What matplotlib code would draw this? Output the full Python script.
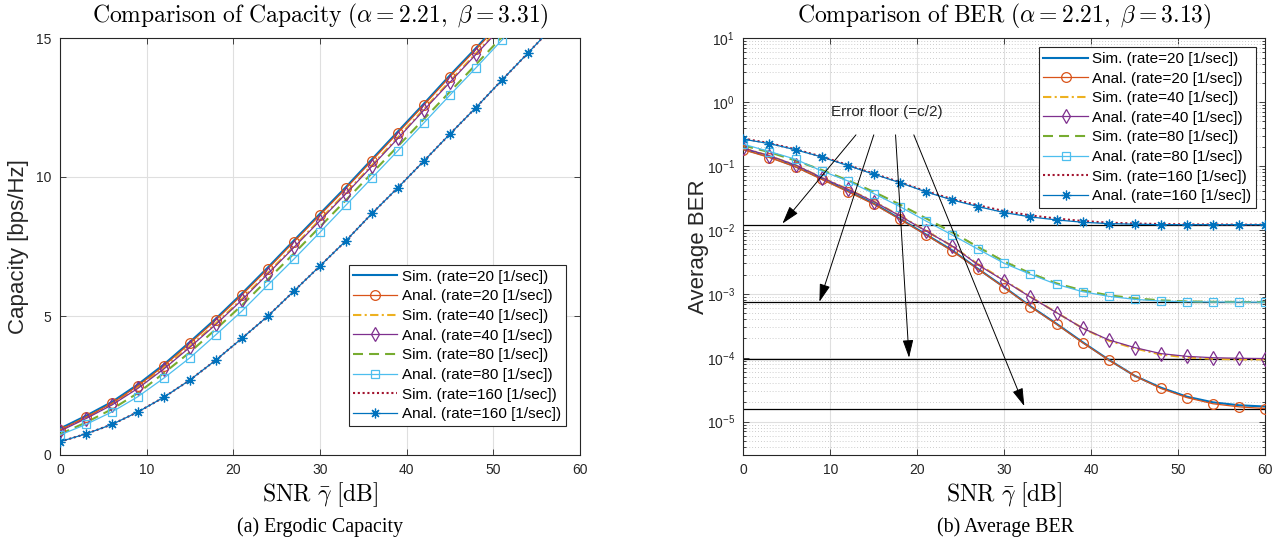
import matplotlib
matplotlib.use("Agg")
import matplotlib.pyplot as plt
from matplotlib.ticker import LogLocator, FixedLocator, NullFormatter

plt.rcParams['font.family'] = ['Liberation Sans', 'DejaVu Sans']
plt.rcParams['mathtext.fontset'] = 'custom'
plt.rcParams['mathtext.rm'] = 'Liberation Sans'
plt.rcParams['mathtext.it'] = 'Liberation Sans:italic'
plt.rcParams['mathtext.bf'] = 'Liberation Sans:bold'

# ---------------------------------------------------------------- data
snr_db = [0, 3, 6, 9, 12, 15, 18, 21, 24, 27, 30, 33, 36, 39, 42, 45, 48, 51, 54, 57, 60]
rates = [20, 40, 80, 160]

# ergodic capacity [bps/Hz]
cap_sim_20 = [0.95, 1.41, 1.91, 2.54, 3.26, 4.07, 4.91, 5.81, 6.75, 7.72, 8.68, 9.64, 10.64, 11.64, 12.64, 13.66, 14.64, 15.65, 16.65, 17.65, 18.65]
cap_anal_20 = [0.90, 1.36, 1.86, 2.49, 3.21, 4.02, 4.86, 5.76, 6.70, 7.67, 8.63, 9.59, 10.59, 11.59, 12.59, 13.61, 14.59, 15.60, 16.60, 17.60, 18.60]
cap_sim_40 = [0.89, 1.34, 1.84, 2.44, 3.14, 3.92, 4.74, 5.62, 6.56, 7.51, 8.47, 9.44, 10.43, 11.43, 12.45, 13.45, 14.45, 15.45, 16.45, 17.45, 18.45]
cap_anal_40 = [0.86, 1.31, 1.80, 2.40, 3.10, 3.88, 4.70, 5.58, 6.52, 7.47, 8.43, 9.40, 10.39, 11.39, 12.41, 13.41, 14.41, 15.41, 16.41, 17.41, 18.41]
cap_sim_80 = [0.75, 1.17, 1.65, 2.23, 2.95, 3.70, 4.53, 5.39, 6.32, 7.25, 8.21, 9.17, 10.14, 11.11, 12.09, 13.07, 14.05, 15.04, 16.03, 17.03, 18.03]
cap_anal_80 = [0.72, 1.10, 1.55, 2.10, 2.77, 3.50, 4.33, 5.18, 6.12, 7.05, 8.01, 8.99, 9.97, 10.95, 11.95, 12.95, 13.93, 14.93, 15.93, 16.93, 17.93]
cap_sim_160 = [0.48, 0.76, 1.10, 1.55, 2.08, 2.70, 3.42, 4.20, 5.00, 5.90, 6.80, 7.71, 8.69, 9.62, 10.58, 11.55, 12.50, 13.49, 14.46, 15.45, 16.44]
cap_anal_160 = [0.48, 0.76, 1.10, 1.55, 2.08, 2.70, 3.42, 4.20, 5.00, 5.90, 6.80, 7.71, 8.69, 9.62, 10.58, 11.55, 12.50, 13.49, 14.46, 15.45, 16.44]

# average bit error rate
ber_sim_20 = [0.185, 0.14, 0.099, 0.064, 0.041, 0.026, 0.0150, 0.0085, 0.0048, 0.00245, 0.00127, 6.4e-4, 3.4e-4, 1.75e-4, 9.3e-5, 5.2e-5, 3.4e-5, 2.45e-5, 2.0e-5, 1.8e-5, 1.72e-5]
ber_anal_20 = [0.18, 0.136, 0.097, 0.062, 0.0398, 0.0253, 0.0147, 0.00835, 0.00469, 0.00242, 0.00125, 6.3e-4, 3.34e-4, 1.72e-4, 9.2e-5, 5.2e-5, 3.3e-5, 2.37e-5, 1.9e-5, 1.7e-5, 1.6e-5]
ber_sim_40 = [0.19, 0.144, 0.103, 0.066, 0.0436, 0.028, 0.0167, 0.0097, 0.0056, 0.0029, 0.00162, 9.0e-4, 5.1e-4, 2.9e-4, 1.85e-4, 1.4e-4, 1.12e-4, 1.01e-4, 9.6e-5, 9.4e-5, 9.4e-5]
ber_anal_40 = [0.191, 0.145, 0.104, 0.066, 0.0434, 0.0278, 0.0166, 0.00964, 0.00562, 0.00283, 0.0016, 8.9e-4, 5.08e-4, 2.9e-4, 1.9e-4, 1.44e-4, 1.16e-4, 1.05e-4, 1.0e-4, 9.8e-5, 9.7e-5]
ber_sim_80 = [0.21, 0.165, 0.122, 0.087, 0.06, 0.0395, 0.025, 0.0152, 0.0092, 0.0054, 0.0032, 0.0021, 0.00146, 0.00113, 9.5e-4, 8.5e-4, 7.9e-4, 7.6e-4, 7.5e-4, 7.45e-4, 7.42e-4]
ber_anal_80 = [0.22, 0.169, 0.128, 0.084, 0.0587, 0.0371, 0.0232, 0.0138, 0.00835, 0.00498, 0.0030, 0.00202, 0.00141, 0.00108, 9.14e-4, 8.2e-4, 7.7e-4, 7.53e-4, 7.45e-4, 7.42e-4, 7.4e-4]
ber_sim_160 = [0.27, 0.228, 0.183, 0.141, 0.104, 0.076, 0.056, 0.0403, 0.0305, 0.0243, 0.0197, 0.0169, 0.0151, 0.0138, 0.013, 0.0126, 0.0124, 0.0122, 0.0122, 0.0121, 0.0121]
ber_anal_160 = [0.263, 0.225, 0.18, 0.139, 0.102, 0.0747, 0.055, 0.0394, 0.0295, 0.0232, 0.0187, 0.016, 0.01436, 0.0132, 0.01256, 0.0123, 0.0121, 0.0121, 0.0121, 0.0121, 0.0121]

# error floors (c/2) and the arrows pointing at them
error_floors = [0.0121, 7.4e-4, 9.5e-5, 1.56e-5]
arrow_tail_x = [12.95, 15.0, 17.5, 19.6]
arrow_tail_y = [0.308, 0.308, 0.308, 0.308]
arrow_head_x = [4.5, 8.75, 19.05, 32.3]
arrow_head_y = [0.0126, 7.5e-4, 1.0e-4, 1.75e-5]
floor_label = "Error floor (=c/2)"
floor_label_pos = (16.55, 0.714)

cap_sim = [cap_sim_20, cap_sim_40, cap_sim_80, cap_sim_160]
cap_anal = [cap_anal_20, cap_anal_40, cap_anal_80, cap_anal_160]
ber_sim = [ber_sim_20, ber_sim_40, ber_sim_80, ber_sim_160]
ber_anal = [ber_anal_20, ber_anal_40, ber_anal_80, ber_anal_160]

# ---------------------------------------------------------------- styles
sim_styles = [
    dict(color='#0072BD', linestyle='-'),
    dict(color='#EDB120', dashes=(4.0, 1.6, 1.0, 1.6)),
    dict(color='#77AC30', dashes=(4.8, 2.9)),
    dict(color='#A2142F', dashes=(1.0, 1.3)),
]
anal_styles = [
    dict(color='#D95319', marker='o', markersize=7),
    dict(color='#7E2F8E', marker='d', markersize=7.5),
    dict(color='#4DBEEE', marker='s', markersize=5.5),
    dict(color='#0072BD', marker=(8, 2, 0), markersize=7),
]

GRID = '#DFDFDF'
MINOR = '#BDBDBD'
AXC = '#262626'

fig = plt.figure(figsize=(12.85, 5.47), dpi=100)
W, H = 1285.0, 547.0
ax1 = fig.add_axes([60 / W, 92 / H, 520 / W, 417 / H])
ax2 = fig.add_axes([743.3 / W, 92 / H, 522 / W, 416.7 / H])


def draw_series(ax, sims, anals):
    handles = []
    for r, s, a, ss, sa in zip(rates, sims, anals, sim_styles, anal_styles):
        h1, = ax.plot(snr_db, s, linewidth=1.5, label=f"Sim. (rate={r} [1/sec])",
                      zorder=3, **ss)
        h2, = ax.plot(snr_db, a, linewidth=0.9, markerfacecolor='none',
                      markeredgewidth=0.9, label=f"Anal. (rate={r} [1/sec])",
                      zorder=4, **sa)
        handles += [h1, h2]
    return handles


def style_axes(ax):
    for sp in ax.spines.values():
        sp.set_color(AXC)
        sp.set_linewidth(0.8)
    ax.tick_params(which='both', direction='in', top=True, right=True,
                   colors=AXC, labelsize=10, width=0.6)
    ax.tick_params(which='major', length=4, pad=6)
    ax.tick_params(which='minor', length=2)
    ax.set_axisbelow(True)


def add_legend(ax, handles, anchor):
    leg = ax.legend(handles=handles, loc='upper right', bbox_to_anchor=anchor,
                    bbox_transform=fig.transFigure, fontsize=11, frameon=True,
                    fancybox=False, edgecolor=AXC, framealpha=1,
                    borderaxespad=0, borderpad=0.3, handlelength=2.9,
                    handletextpad=0.3, labelspacing=0.37)
    leg.get_frame().set_linewidth(0.8)
    return leg


title_kw = dict(fontsize=17, math_fontfamily='cm', y=1.0 + 22 / 417,
                verticalalignment='center', pad=0)
xlabel_kw = dict(fontsize=17, math_fontfamily='cm')

# ---------------------------------------------------------------- capacity
h = draw_series(ax1, cap_sim, cap_anal)
style_axes(ax1)
ax1.set_xlim(0, 60)
ax1.set_ylim(0, 15)
ax1.set_xticks(range(0, 61, 10))
ax1.set_yticks([0, 5, 10, 15])
ax1.grid(True, which='major', color=GRID, linewidth=0.8)
ax1.set_title(r"$\mathrm{Comparison\ of\ Capacity\ (}\alpha = 2.21\mathrm{,\ }\beta = 3.31\mathrm{)}$",
              **title_kw)
ax1.set_xlabel(r"$\mathrm{SNR}\ \bar{\gamma}\ \mathrm{[dB]}$", **xlabel_kw)
ax1.xaxis.set_label_coords(0.5, -40 / 417)
ax1.xaxis.label.set_verticalalignment('center')
ax1.set_ylabel("Capacity [bps/Hz]", fontsize=16, color=AXC)
ax1.yaxis.set_label_coords(-41 / 520, 0.5)
ax1.yaxis.label.set_verticalalignment('center')
add_legend(ax1, h, (565.7 / W, 1 - 265 / H))

# ---------------------------------------------------------------- BER
h = draw_series(ax2, ber_sim, ber_anal)
for fl in error_floors:
    ax2.axhline(fl, color='black', linewidth=0.9, zorder=2)
ax2.set_yscale('log')
style_axes(ax2)
ax2.set_xlim(0, 60)
ax2.set_ylim(3.0e-6, 10)
ax2.set_xticks(range(0, 61, 10))
ax2.yaxis.set_major_locator(FixedLocator([1e-5, 1e-4, 1e-3, 1e-2, 1e-1, 1e0, 1e1]))
ax2.yaxis.set_minor_locator(LogLocator(base=10, subs=range(2, 10), numticks=20))
ax2.yaxis.set_minor_formatter(NullFormatter())
ax2.grid(True, which='major', color=GRID, linewidth=0.8)
ax2.grid(True, which='minor', axis='y', color=MINOR, linewidth=0.6,
         linestyle=(0, (1, 2.5)))
for tx, ty, hx, hy in zip(arrow_tail_x, arrow_tail_y, arrow_head_x, arrow_head_y):
    ax2.annotate("", xy=(hx, hy), xytext=(tx, ty),
                 arrowprops=dict(arrowstyle='-|>,head_length=1.1,head_width=0.33',
                                 color='black', linewidth=0.7,
                                 shrinkA=0, shrinkB=0), zorder=5)
ax2.text(floor_label_pos[0], floor_label_pos[1], floor_label, fontsize=11,
         ha='center', va='center', color=AXC, zorder=6)
ax2.set_title(r"$\mathrm{Comparison\ of\ BER\ (}\alpha = 2.21\mathrm{,\ }\beta = 3.13\mathrm{)}$",
              **title_kw)
ax2.set_xlabel(r"$\mathrm{SNR}\ \bar{\gamma}\ \mathrm{[dB]}$", **xlabel_kw)
ax2.xaxis.set_label_coords(0.5, -40 / 416.7)
ax2.xaxis.label.set_verticalalignment('center')
ax2.set_ylabel("Average BER", fontsize=16, color=AXC)
ax2.yaxis.set_label_coords(-45 / 522, 0.5)
ax2.yaxis.label.set_verticalalignment('center')
add_legend(ax2, h, (1256 / W, 1 - 47.3 / H))

# ---------------------------------------------------------------- captions
fig.text(320 / W, 1 - 527 / H, "(a) Ergodic Capacity", fontsize=14.3,
         family='Liberation Serif', ha='center', va='center')
fig.text(1005 / W, 1 - 527 / H, "(b) Average BER", fontsize=14.3,
         family='Liberation Serif', ha='center', va='center')

fig.savefig("out.png", dpi=100)
